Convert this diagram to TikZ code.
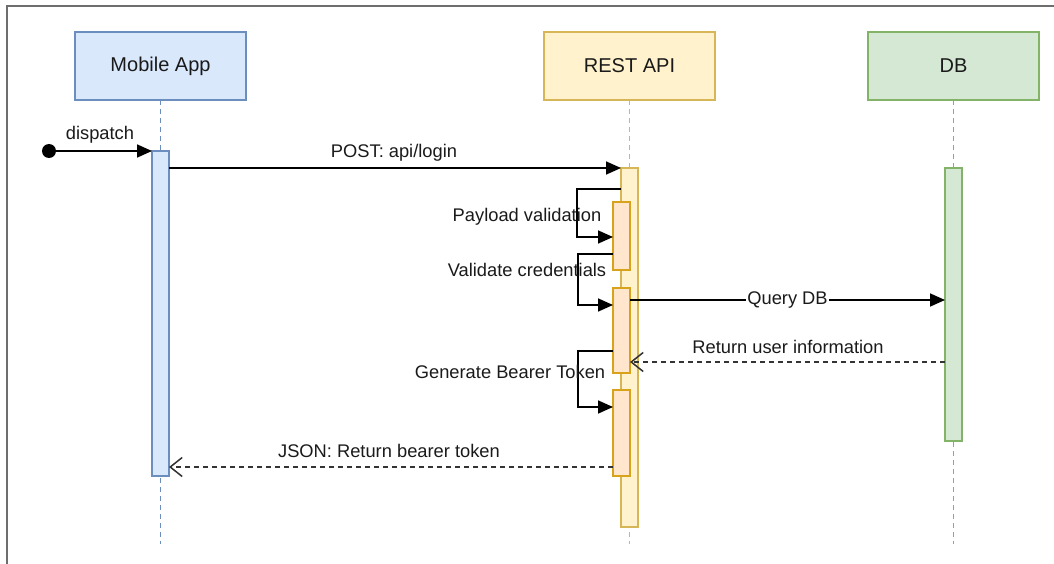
\documentclass[tikz,border=0pt]{standalone}
\usepackage{fontspec}
\setmainfont{Liberation Sans}
\usetikzlibrary{arrows.meta,calc}
\definecolor{bluefill}{HTML}{DAE8FC}
\definecolor{bluedraw}{HTML}{6C8EBF}
\definecolor{yelfill}{HTML}{FFF2CC}
\definecolor{yeldraw}{HTML}{D6B656}
\definecolor{orfill}{HTML}{FFE6CC}
\definecolor{ordraw}{HTML}{D9A21B}
\definecolor{grfill}{HTML}{D5E8D4}
\definecolor{grdraw}{HTML}{82B366}
\definecolor{txt}{HTML}{1A1A1A}
\definecolor{framec}{HTML}{6E6E6E}
\tikzset{
  actor/.style={draw, line width=1.4pt, minimum width=171pt, minimum height=68pt, inner sep=0pt,
    outer sep=0pt, text=txt, font=\fontsize{20}{24}\selectfont},
  actbar/.style={draw, line width=1.4pt, minimum width=17pt, inner sep=0pt, outer sep=0pt},
  lifeline/.style={line width=1.4pt, dash pattern=on 5pt off 4pt},
  msg/.style={line width=1.7pt, black, -{Triangle[length=15pt,width=13pt]}},
  ret/.style={line width=1.5pt, black!80, dash pattern=on 5pt off 4pt, -{Straight Barb[length=12pt,width=19pt,line width=1.5pt]}},
  lbl/.style={text=txt, font=\fontsize{18.3}{22}\selectfont, inner sep=1pt},
}
\begin{document}
\begin{tikzpicture}[x=1pt,y=-1pt]
\useasboundingbox (0,0) rectangle (1054,564);
\draw[framec, line width=2pt] (7,564) -- (7,6) -- (1054,6);

% actors
\node[actor, fill=bluefill, draw=bluedraw] (mob) at (160.5,66) {Mobile App};
\node[actor, fill=yelfill, draw=yeldraw] (rest) at (629.5,66) {REST API};
\node[actor, fill=grfill, draw=grdraw] (db) at (953.5,66) {DB};

% lifeline ends
\coordinate (mobend) at (160.5,544);
\coordinate (restend) at (629.5,544);
\coordinate (dbend) at (953.5,544);
\draw[lifeline, bluedraw] (mob.south) -- (mobend);
\draw[lifeline, yeldraw] (rest.south) -- (restend);
\draw[lifeline, grdraw] (db.south) -- (dbend);

% activation bars
\node[actbar, fill=bluefill, draw=bluedraw, minimum height=325pt] (mobbar) at (160.5,313.5) {};
\node[actbar, fill=yelfill, draw=yeldraw, minimum height=359pt] (restbar) at (629.5,347.5) {};
\node[actbar, fill=grfill, draw=grdraw, minimum height=273pt] (dbbar) at (953.5,304.5) {};
\node[actbar, fill=orfill, draw=ordraw, minimum height=68pt] (bar1) at (621.5,236) {};
\node[actbar, fill=orfill, draw=ordraw, minimum height=85pt] (bar2) at (621.5,330.5) {};
\node[actbar, fill=orfill, draw=ordraw, minimum height=86pt] (bar3) at (621.5,433) {};

% dispatch
\node[circle, fill=black, minimum size=14pt, inner sep=0pt, outer sep=0pt] (start) at (49,151) {};
\draw[msg] (start.center) -- (mobbar.north west);
\node[lbl] (ldispatch) at (100,135) {dispatch};

% POST
\draw[msg] (mobbar.east |- restbar.north) -- (restbar.north west);
\node[lbl] (lpost) at (394,153) {POST: api/login};

% self calls
\draw[msg] (restbar.west |- 0,189) -- ++(-44,0) |- (bar1.west |- 0,237);
\node[lbl] (lpayload) at (527,217) {Payload validation};
\draw[msg] (bar1.west |- 0,254) -- ++(-35,0) |- (bar2.west |- 0,305);
\node[lbl] (lvalidate) at (527,270) {Validate credentials};
\draw[msg] (bar2.west |- 0,351) -- ++(-35,0) |- (bar3.west |- 0,407);
\node[lbl] (lgen) at (510,372) {Generate Bearer Token};

% Query DB
\draw[msg] (bar2.east |- 0,300) -- node[lbl, fill=white] (lquery) {Query DB} (dbbar.west |- 0,300);

% return user info
\draw[ret] (dbbar.west |- 0,362) -- (bar2.east |- 0,362);
\node[lbl] (lreturn) at (788,347) {Return user information};

% JSON
\draw[ret] (bar3.west |- 0,467) -- (mobbar.east |- 0,467);
\node[lbl] (ljson) at (389,451) {JSON: Return bearer token};
\end{tikzpicture}
\end{document}
